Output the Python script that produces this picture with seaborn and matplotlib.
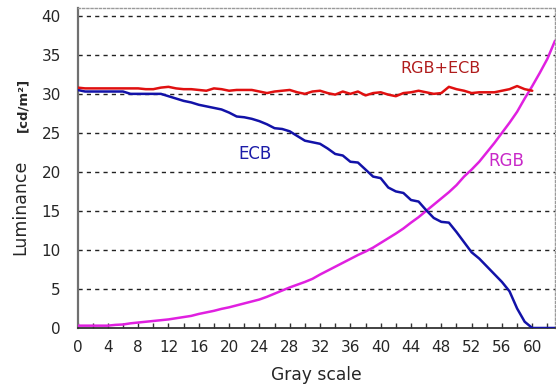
import matplotlib
matplotlib.use("Agg")
import matplotlib.pyplot as plt
import seaborn as sns
import pandas as pd
from matplotlib.ticker import MultipleLocator

# Luminance [cd/m²] measured per gray level
gray_rgb = list(range(0, 64))
rgb = [0.3, 0.3, 0.3, 0.3, 0.3, 0.4, 0.45, 0.6, 0.7, 0.8,
       0.9, 1.0, 1.1, 1.25, 1.4, 1.55, 1.8, 2.0, 2.2, 2.45,
       2.65, 2.9, 3.15, 3.4, 3.65, 4.0, 4.4, 4.8, 5.2, 5.55,
       5.9, 6.3, 6.85, 7.35, 7.85, 8.35, 8.85, 9.35, 9.8, 10.3,
       10.9, 11.5, 12.1, 12.75, 13.5, 14.2, 15.0, 15.8, 16.6, 17.4,
       18.3, 19.4, 20.3, 21.3, 22.5, 23.7, 25.0, 26.3, 27.7, 29.4,
       31.0, 32.7, 34.5, 36.8]

gray_ecb = list(range(0, 64))
ecb = [30.5, 30.3, 30.3, 30.3, 30.3, 30.3, 30.3, 30.0, 30.0, 30.0,
       30.0, 30.0, 29.7, 29.4, 29.1, 28.9, 28.6, 28.4, 28.2, 28.0,
       27.6, 27.1, 27.0, 26.8, 26.5, 26.1, 25.6, 25.5, 25.2, 24.6,
       24.0, 23.8, 23.6, 23.0, 22.3, 22.1, 21.3, 21.2, 20.3, 19.4,
       19.2, 18.0, 17.5, 17.3, 16.4, 16.2, 15.1, 14.1, 13.6, 13.5,
       12.3, 11.0, 9.7, 8.9, 7.9, 6.9, 5.9, 4.7, 2.5, 0.8,
       0.0, 0.0, 0.0, 0.0]

gray_sum = list(range(0, 61))
rgb_ecb = [30.8, 30.7, 30.7, 30.7, 30.7, 30.7, 30.7, 30.7, 30.7, 30.6,
           30.6, 30.8, 30.9, 30.7, 30.6, 30.6, 30.5, 30.4, 30.7, 30.6,
           30.4, 30.5, 30.5, 30.5, 30.3, 30.1, 30.3, 30.4, 30.5, 30.2,
           30.0, 30.3, 30.4, 30.1, 29.9, 30.3, 30.0, 30.3, 29.8, 30.1,
           30.2, 29.9, 29.7, 30.1, 30.2, 30.4, 30.2, 30.0, 30.1, 30.9,
           30.6, 30.4, 30.1, 30.2, 30.2, 30.2, 30.4, 30.6, 31.0, 30.6,
           30.4]

x_major = list(range(0, 61, 4))
y_major = list(range(0, 41, 5))

c_red, c_blue, c_mag = "#e01010", "#1212a8", "#e020e0"

sns.set_style("white")
plt.rcParams["font.family"] = ["DejaVu Sans"]

fig = plt.figure(figsize=(5.56, 3.87), dpi=100)
ax = fig.add_axes([77.5 / 556, 1 - 328 / 387, 477.5 / 556, 320 / 387])

df_rgb = pd.DataFrame({"gray": gray_rgb, "lum": rgb})
df_ecb = pd.DataFrame({"gray": gray_ecb, "lum": ecb})
df_sum = pd.DataFrame({"gray": gray_sum, "lum": rgb_ecb})

for y in y_major[1:]:
    ax.axhline(y, color="#222222", lw=1.0, ls=(0, (3, 3)), zorder=1)

sns.lineplot(data=df_rgb, x="gray", y="lum", color=c_mag, lw=1.8, ax=ax,
             estimator=None, zorder=3)
sns.lineplot(data=df_ecb, x="gray", y="lum", color=c_blue, lw=1.8, ax=ax,
             estimator=None, zorder=3)
sns.lineplot(data=df_sum, x="gray", y="lum", color=c_red, lw=1.8, ax=ax,
             estimator=None, zorder=4)

ax.set_xlim(0, 63)
ax.set_ylim(0, 41)
ax.xaxis.set_major_locator(MultipleLocator(4))
ax.xaxis.set_minor_locator(MultipleLocator(2))
ax.set_xticks(x_major)
ax.set_yticks(y_major)
ax.tick_params(axis="x", which="both", direction="in", length=3.5, width=1,
               color="#333333", pad=9, labelsize=11, bottom=True)
ax.tick_params(axis="y", length=0, pad=12, labelsize=11)
ax.set_xlabel("")
ax.set_ylabel("")

for side in ("top", "right"):
    ax.spines[side].set_visible(True)
    ax.spines[side].set_color("#9a9a9a")
    ax.spines[side].set_linestyle((0, (1.5, 1.5)))
    ax.spines[side].set_linewidth(1.0)
ax.spines["left"].set_color("#707070")
ax.spines["left"].set_linewidth(1.6)
ax.spines["bottom"].set_color("#333333")
ax.spines["bottom"].set_linewidth(1.3)

ax.text(47.9, 33.2, "RGB+ECB", color="#b01c1c", fontsize=11.5,
        ha="center", va="center")
ax.text(23.4, 22.3, "ECB", color="#1c1ca8", fontsize=12,
        ha="center", va="center")
ax.text(56.6, 21.4, "RGB", color="#c828c8", fontsize=12,
        ha="center", va="center")

fig.text(316 / 556, 1 - 375 / 387, "Gray scale", fontsize=12.3,
         ha="center", va="center")
fig.text(20.5 / 556, 1 - 207 / 387, "Luminance", fontsize=12.5,
         rotation=90, ha="center", va="center")
fig.text(23 / 556, 1 - 105 / 387, "[cd/m²]", fontsize=9.5, fontweight="bold",
         rotation=90, ha="center", va="center")

fig.savefig("out.png", dpi=100)
